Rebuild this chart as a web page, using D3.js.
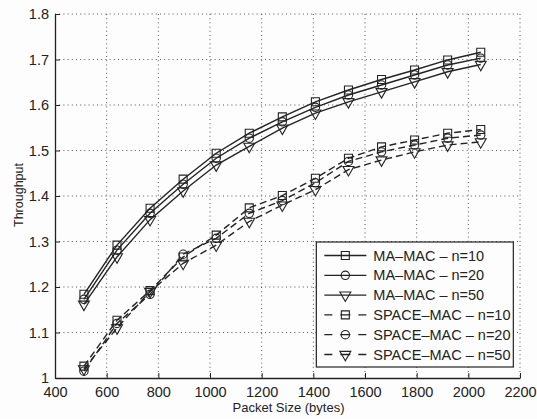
<!DOCTYPE html>
<html>
<head>
<meta charset="utf-8">
<script src="https://cdn.jsdelivr.net/npm/d3@7"></script>
<style>
  body { margin: 0; background: #fdfdfd; }
  svg { font-family: "Liberation Sans", Arial, sans-serif; }
  .grid line { stroke: #555; stroke-dasharray: 1,3.2; stroke-width: 1; }
  .axis path, .axis line { stroke: #222; }
  .axis text { fill: #222; font-size: 14.5px; }
</style>
</head>
<body>
<script>
// packet sizes (bytes)
var packetSizes = [512, 640, 768, 896, 1024, 1152, 1280, 1408, 1536, 1664, 1792, 1920, 2048];

// throughput values
var maMac10 = [1.184, 1.292, 1.373, 1.437, 1.494, 1.538, 1.574, 1.607, 1.633, 1.656, 1.677, 1.699, 1.716];
var maMac20 = [1.173, 1.281, 1.362, 1.426, 1.483, 1.527, 1.563, 1.595, 1.622, 1.644, 1.666, 1.688, 1.703];
var maMac50 = [1.162, 1.266, 1.348, 1.411, 1.468, 1.509, 1.549, 1.582, 1.607, 1.629, 1.651, 1.673, 1.689];
var spaceMac10 = [1.026, 1.127, 1.192, 1.266, 1.314, 1.374, 1.401, 1.439, 1.483, 1.508, 1.523, 1.538, 1.546];
var spaceMac20 = [1.015, 1.120, 1.184, 1.272, 1.307, 1.362, 1.390, 1.429, 1.476, 1.497, 1.512, 1.527, 1.534];
var spaceMac50 = [1.020, 1.110, 1.190, 1.252, 1.292, 1.344, 1.380, 1.414, 1.458, 1.479, 1.497, 1.512, 1.519];

var xTicks = [400, 600, 800, 1000, 1200, 1400, 1600, 1800, 2000, 2200];
var yTicks = [1, 1.1, 1.2, 1.3, 1.4, 1.5, 1.6, 1.7, 1.8];

var series = [
    {name: "MA\u2013MAC \u2013 n=10", values: maMac10, marker: "square", dashed: false},
    {name: "MA\u2013MAC \u2013 n=20", values: maMac20, marker: "circle", dashed: false},
    {name: "MA\u2013MAC \u2013 n=50", values: maMac50, marker: "triangle", dashed: false},
    {name: "SPACE\u2013MAC \u2013 n=10", values: spaceMac10, marker: "square", dashed: true},
    {name: "SPACE\u2013MAC \u2013 n=20", values: spaceMac20, marker: "circle", dashed: true},
    {name: "SPACE\u2013MAC \u2013 n=50", values: spaceMac50, marker: "triangle", dashed: true}
];

var W = 537, H = 419;
var margin = {top: 14, right: 17, bottom: 41, left: 55};
var width = W - margin.left - margin.right;
var height = H - margin.top - margin.bottom;
var ink = "#232323";

var x = d3.scaleLinear().domain([400, 2200]).range([0, width]);
var y = d3.scaleLinear().domain([1, 1.8]).range([height, 0]);

var svg = d3.select("body").append("svg")
    .attr("width", W)
    .attr("height", H)
    .append("g")
    .attr("transform", "translate(" + margin.left + "," + margin.top + ")");

// dotted grid
svg.append("g").attr("class", "grid")
    .selectAll("line.gx").data(xTicks.slice(1)).enter().append("line")
    .attr("x1", function(d) { return x(d); }).attr("x2", function(d) { return x(d); })
    .attr("y1", 0).attr("y2", height);
svg.append("g").attr("class", "grid")
    .selectAll("line.gy").data(yTicks.slice(1)).enter().append("line")
    .attr("x1", 0).attr("x2", width)
    .attr("y1", function(d) { return y(d); }).attr("y2", function(d) { return y(d); });

// axes, ticks pointing inward
svg.append("g")
    .attr("class", "axis")
    .attr("transform", "translate(0," + height + ")")
    .call(d3.axisBottom(x).tickValues(xTicks).tickSizeInner(-5).tickSizeOuter(0).tickPadding(9)
        .tickFormat(d3.format("d")))
    .selectAll("text").attr("dy", "0.71em");

svg.append("g")
    .attr("class", "axis")
    .call(d3.axisLeft(y).tickValues(yTicks).tickSizeInner(-5).tickSizeOuter(0).tickPadding(6)
        .tickFormat(function(d) { return d === 1 ? "1" : d3.format(".1f")(d); }));

svg.selectAll(".axis path").attr("stroke-width", 1.3);

// axis labels
svg.append("text")
    .attr("x", width / 2 + 1)
    .attr("y", height + 34)
    .attr("text-anchor", "middle")
    .style("font-size", "13px")
    .attr("fill", ink)
    .text("Packet Size (bytes)");

svg.append("text")
    .attr("transform", "translate(" + (-32) + "," + (195 - margin.top) + ") rotate(-90)")
    .attr("text-anchor", "middle")
    .style("font-size", "12.5px")
    .attr("fill", ink)
    .text("Throughput");

var symbols = {square: d3.symbolSquare, circle: d3.symbolCircle, triangle: d3.symbolTriangle};
var symbolSize = {square: 64, circle: 55, triangle: 52};

function drawMarker(sel, kind) {
    sel.append("path")
        .attr("d", d3.symbol().type(symbols[kind]).size(symbolSize[kind]))
        .attr("transform", kind === "triangle" ? "rotate(180)" : null)
        .attr("fill", "none")
        .attr("stroke", ink)
        .attr("stroke-width", 1.1);
}

var line = d3.line()
    .x(function(d, i) { return x(packetSizes[i]); })
    .y(function(d) { return y(d); });

series.forEach(function(s) {
    svg.append("path")
        .datum(s.values)
        .attr("fill", "none")
        .attr("stroke", ink)
        .attr("stroke-width", 1.4)
        .attr("stroke-dasharray", s.dashed ? "7,4" : null)
        .attr("d", line);

    svg.append("g").selectAll("g")
        .data(s.values)
        .enter().append("g")
        .attr("transform", function(d, i) { return "translate(" + x(packetSizes[i]) + "," + y(d) + ")"; })
        .each(function() { drawMarker(d3.select(this), s.marker); });
});

// legend
var legend = svg.append("g")
    .attr("transform", "translate(" + (x(1400) + 3) + "," + (y(1.3) + 0.5) + ")");

legend.append("rect")
    .attr("width", 197)
    .attr("height", 125)
    .attr("fill", "#fdfdfd")
    .attr("stroke", ink)
    .attr("stroke-width", 1.2);

var rows = legend.selectAll("g.row")
    .data(series)
    .enter().append("g")
    .attr("class", "row")
    .attr("transform", function(d, i) { return "translate(0," + (13.5 + i * 19.8) + ")"; });

rows.append("line")
    .attr("x1", 8).attr("x2", 50)
    .attr("stroke", ink)
    .attr("stroke-width", 1.3)
    .attr("stroke-dasharray", function(d) { return d.dashed ? "8,8,10,8,8,60" : null; });

rows.append("g")
    .attr("transform", "translate(29,0)")
    .each(function(d) { drawMarker(d3.select(this), d.marker); });

rows.append("text")
    .attr("x", 57)
    .attr("dy", "0.35em")
    .style("font-size", "14.5px")
    .attr("fill", ink)
    .text(function(d) { return d.name; });
</script>
</body>
</html>
